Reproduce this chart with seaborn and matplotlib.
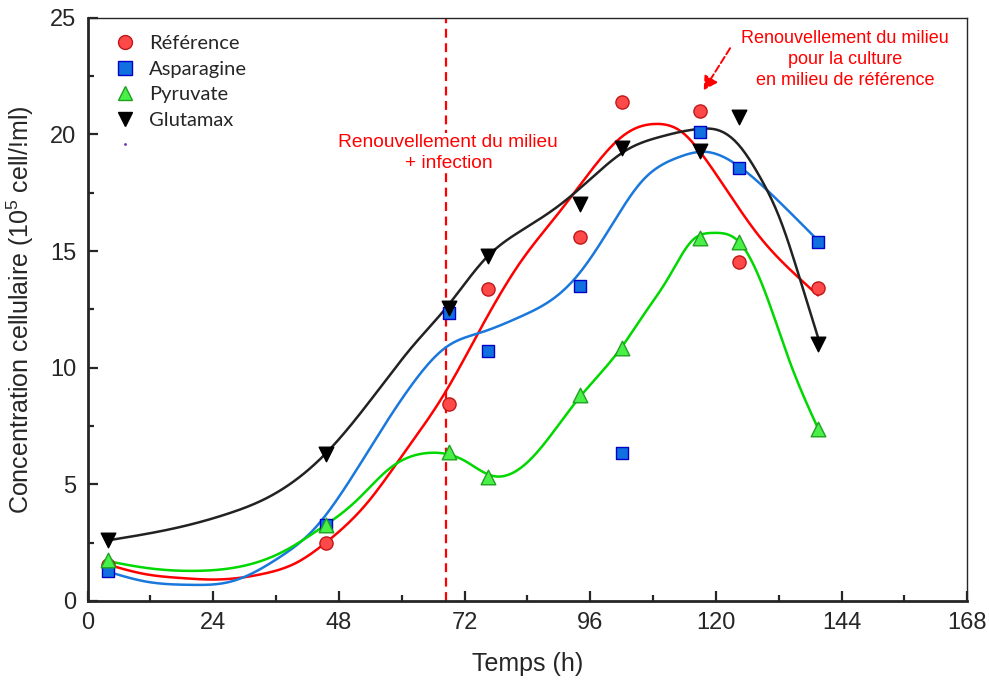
import numpy as np
import pandas as pd
import seaborn as sns
import matplotlib.pyplot as plt
from matplotlib.lines import Line2D
from matplotlib.ticker import MultipleLocator

# measured points
hours = [4, 45.5, 69, 76.5, 94, 102, 117, 124.5, 139.5]
reference = [1.55, 2.5, 8.45, 13.38, 15.6, 21.4, 21.0, 14.55, 13.4]
asparagine = [1.3, 3.25, 12.35, 10.7, 13.5, 6.35, 20.1, 18.57, 15.4]
pyruvate = [1.75, 3.26, 6.39, 5.32, 8.83, 10.85, 15.57, 15.4, 7.38]
glutamax = [2.6, 6.3, 12.56, 14.8, 17.02, 19.43, 19.3, 20.75, 11.02]

# fitted curves (knots)
ref_fit_h = [4, 11, 18, 25, 33.5, 40, 45.5, 53.4, 60, 68.6, 74.4, 82.6, 90.2,
             96.5, 101, 104.5, 108.4, 113.7, 117, 123.3, 128.4, 134.8, 139.5]
ref_fit_v = [1.55, 1.15, 0.98, 0.92, 1.16, 1.65, 2.5, 4.2, 6.2, 9.05, 11.4, 14.5, 16.7,
             18.55, 19.7, 20.25, 20.45, 20.07, 19.25, 17.2, 15.6, 14.07, 13.1]
asp_fit_h = [4, 11.4, 19.6, 27.2, 36.8, 43.1, 47.6, 55.9, 62.2, 68.6, 75, 82.6, 90.3,
             94, 99.8, 106.1, 112.6, 118.3, 124.6, 131.7, 139.3]
asp_fit_v = [1.25, 0.82, 0.69, 0.82, 1.89, 3.04, 4.33, 7.25, 9.35, 10.9, 11.5, 12.18, 13.2,
             14.07, 16.0, 18.05, 19.0, 19.25, 18.6, 17.2, 15.5]
pyr_fit_h = [4, 11.4, 20.9, 30.5, 38, 43.1, 51.5, 57.8, 65.4, 71.7, 77.4, 84.5, 93.5,
             101.9, 106.3, 110.7, 115.7, 119.5, 124.6, 129.8, 134.2, 139.5]
pyr_fit_v = [1.7, 1.41, 1.29, 1.54, 2.19, 2.9, 4.33, 5.7, 6.35, 6.05, 5.36, 6.05, 8.6,
             10.85, 12.3, 13.77, 15.5, 15.78, 15.35, 13.0, 10.2, 7.4]
glu_fit_h = [4, 17.7, 27.2, 33.5, 45.4, 55.9, 62.2, 68.6, 76.3, 83, 90.2, 96.5, 103,
             109.4, 117, 120.2, 124, 128.4, 132.3, 136.1, 139.5]
glu_fit_v = [2.6, 3.17, 3.77, 4.33, 6.3, 9.15, 10.95, 12.6, 14.75, 15.9, 16.98, 18.18, 19.34,
             19.9, 20.24, 20.2, 19.64, 18.18, 16.34, 13.77, 11.3]


def smooth(xk, yk, n=400):
    # natural cubic spline through the knots
    x = np.asarray(xk, float)
    y = np.asarray(yk, float)
    k = len(x)
    h = np.diff(x)
    A = np.zeros((k, k))
    r = np.zeros(k)
    A[0, 0] = A[-1, -1] = 1
    for i in range(1, k - 1):
        A[i, i - 1] = h[i - 1]
        A[i, i] = 2 * (h[i - 1] + h[i])
        A[i, i + 1] = h[i]
        r[i] = 6 * ((y[i + 1] - y[i]) / h[i] - (y[i] - y[i - 1]) / h[i - 1])
    M = np.linalg.solve(A, r)
    xs = np.linspace(x[0], x[-1], n)
    i = np.clip(np.searchsorted(x, xs) - 1, 0, k - 2)
    hi = h[i]
    a = x[i + 1] - xs
    b = xs - x[i]
    ys = (M[i] * a ** 3 + M[i + 1] * b ** 3) / (6 * hi) \
        + (y[i] / hi - M[i] * hi / 6) * a + (y[i + 1] / hi - M[i + 1] * hi / 6) * b
    return xs, ys


sns.set_style("ticks")
plt.rcParams['font.family'] = ['Liberation Sans', 'DejaVu Sans']
plt.rcParams['mathtext.default'] = 'regular'

fig = plt.figure(figsize=(9.89, 6.86), dpi=100)
ax = fig.add_axes([0.0885, 0.124, 0.8895, 0.850])

series = [
    ("Référence", reference, ref_fit_h, ref_fit_v, "o", "#ff4848", "#c01818", "#ff0000", 90),
    ("Asparagine", asparagine, asp_fit_h, asp_fit_v, "s", "#1070e0", "#0000c8", "#1a78dc", 85),
    ("Pyruvate", pyruvate, pyr_fit_h, pyr_fit_v, "^", "#48f048", "#20a020", "#00d800", 110),
    ("Glutamax", glutamax, glu_fit_h, glu_fit_v, "v", "#000000", "#000000", "#222222", 110),
]

handles = []
for name, vals, fh, fv, mk, face, edge, lc, size in series:
    xs, ys = smooth(fh, fv)
    sns.lineplot(x=xs, y=ys, color=lc, lw=1.8, ax=ax, sort=False, estimator=None, zorder=2)
    sns.scatterplot(x=hours, y=vals, marker=mk, s=size, color=face, edgecolor=edge,
                    linewidth=1, ax=ax, zorder=3)
    handles.append(Line2D([], [], ls="none", marker=mk, markersize=10,
                          markerfacecolor=face, markeredgecolor=edge, label=name))
handles.append(Line2D([], [], ls="none", marker=".", markersize=2,
                      color="#7030c0", label=" "))

ax.axvline(68.5, color="#ff0000", ls=(0, (4, 2.5)), lw=1.6, zorder=1)

ax.text(68.9, 19.2, "Renouvellement du milieu\n+ infection", color="#ff0000",
        fontsize=13.8, ha="center", va="center", linespacing=1.3,
        bbox=dict(facecolor="white", edgecolor="none", pad=1), zorder=4)
ax.text(144.7, 23.2, "Renouvellement du milieu\npour la culture\nen milieu de référence",
        color="#ff0000", fontsize=13, ha="center", va="center", linespacing=1.3)
ax.annotate("", xy=(117.4, 21.8), xytext=(123.0, 23.8),
            arrowprops=dict(arrowstyle="-|>,head_length=0.8,head_width=0.45",
                            color="#ff0000", lw=1.4, ls="--"))

ax.legend(handles=handles, loc="upper left", bbox_to_anchor=(0.0, 1.0),
          frameon=False, prop={"family": "Lato", "size": 14.5},
          handletextpad=0.2, labelspacing=0.42, borderaxespad=0.45)

ax.set_xlim(0, 168)
ax.set_ylim(0, 25)
ax.xaxis.set_major_locator(MultipleLocator(24))
ax.xaxis.set_minor_locator(MultipleLocator(12))
ax.yaxis.set_major_locator(MultipleLocator(5))
ax.yaxis.set_minor_locator(MultipleLocator(2.5))
ax.tick_params(which="both", direction="in", labelsize=17, width=1.6, pad=8)
ax.tick_params(which="major", length=7)
ax.tick_params(which="minor", length=4)
ax.tick_params(axis="x", which="both", top=False)
ax.tick_params(axis="y", which="both", right=False)
for s in ["left", "bottom"]:
    ax.spines[s].set_linewidth(2)
for s in ["top", "right"]:
    ax.spines[s].set_linewidth(1)

ax.set_xlabel("Temps (h)", fontsize=18, labelpad=13)
ax.set_ylabel("Concentration cellulaire (10$^{5}$ cell/!ml)", fontsize=18, labelpad=10)

fig.savefig("out.png", dpi=100)
